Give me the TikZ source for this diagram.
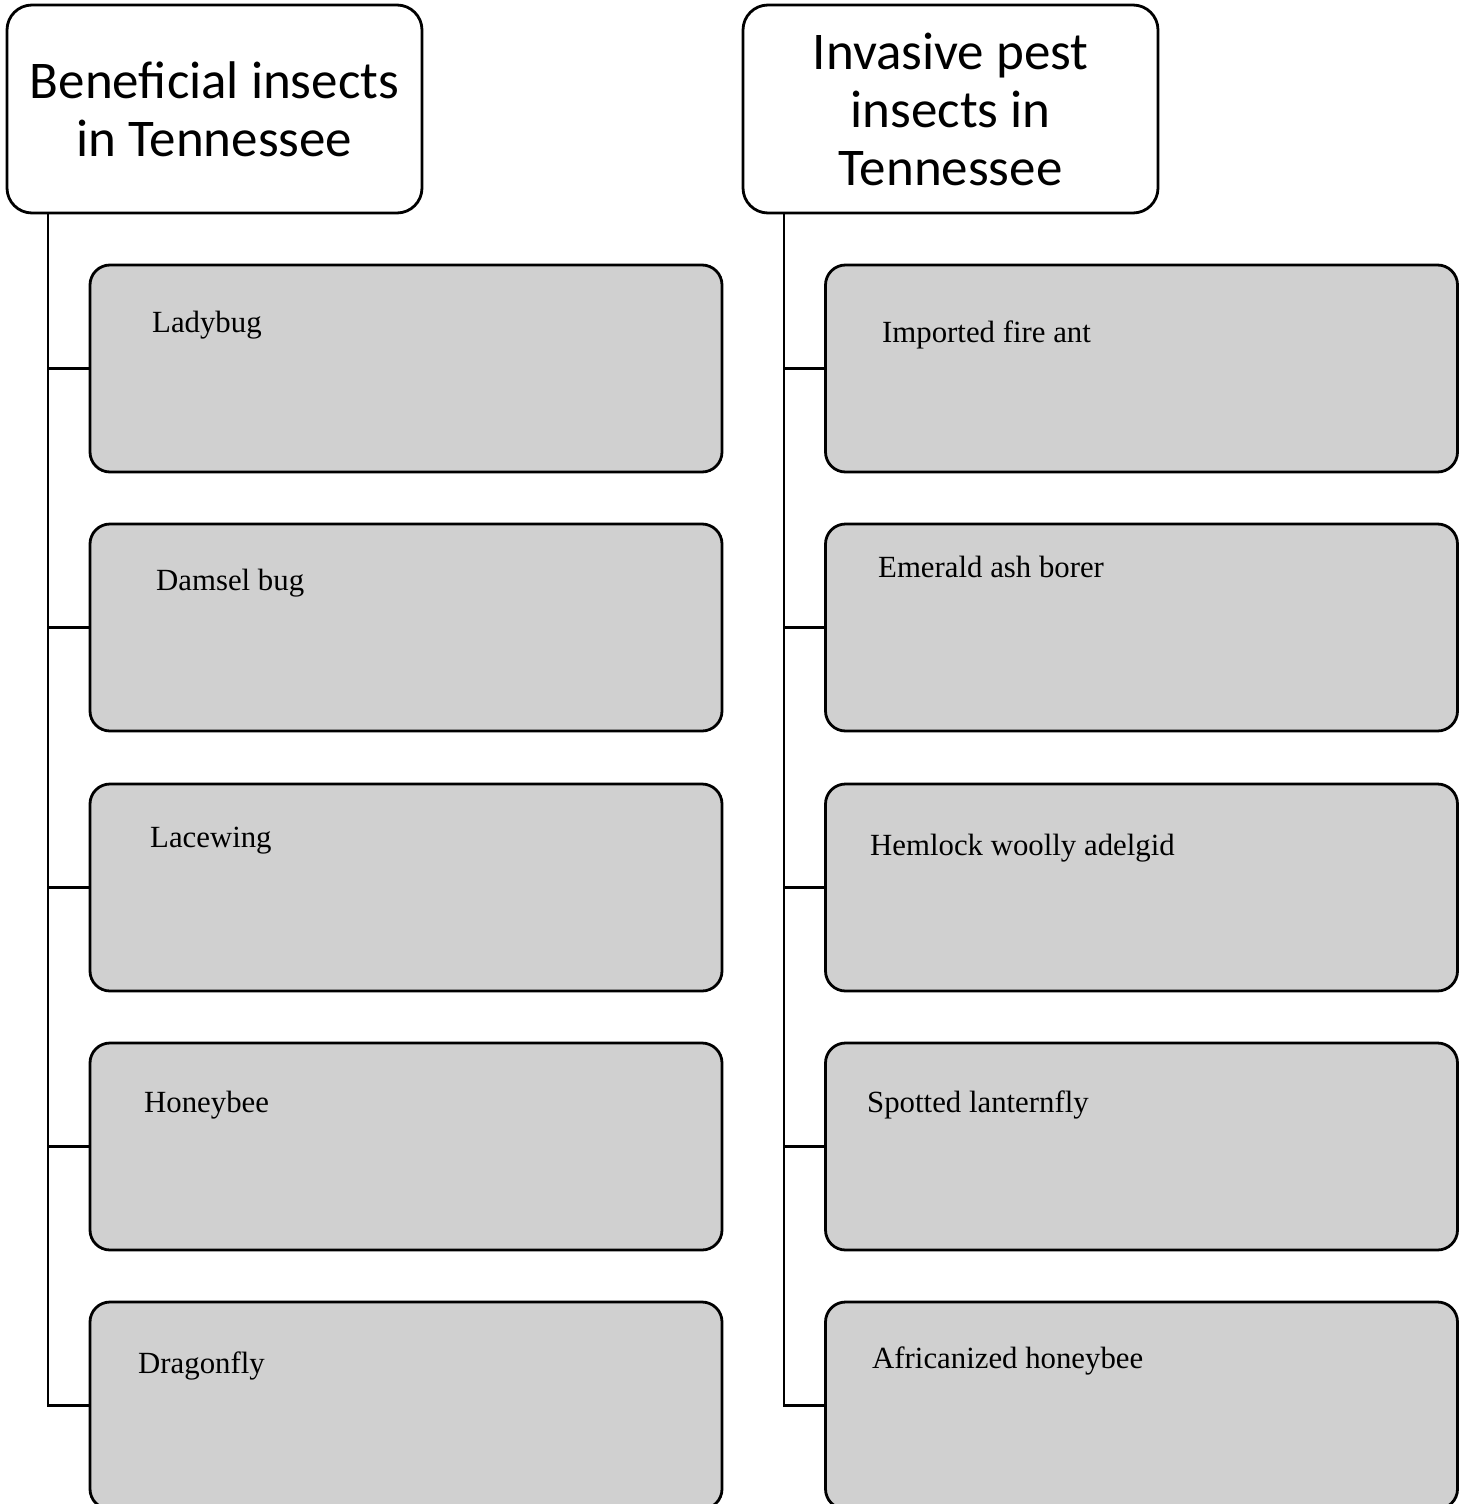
\documentclass[tikz,border=0pt]{standalone}
\usepackage{fontspec}
\setmainfont{Liberation Serif}
\newfontfamily\headfont{Carlito}
\definecolor{boxgray}{HTML}{D0D0D0}
\begin{document}
\begin{tikzpicture}[x=1pt,y=-1pt,
  headbox/.style={draw=black, line width=2.8pt, fill=white, rounded corners=25pt,
    minimum width=415pt, minimum height=208pt, inner sep=0pt, align=center,
    font=\headfont\fontsize{53}{58}\selectfont},
  itembox/.style={draw=black, line width=2.8pt, fill=boxgray, rounded corners=20pt,
    minimum width=632pt, minimum height=207pt, inner sep=0pt},
  itemtext/.style={anchor=base west, inner sep=0pt, font=\fontsize{30.8}{38}\selectfont},
  link/.style={draw=black, line width=2.8pt}]
\clip (0,0) rectangle (1465,1504);
% headers
\node[headbox] (lhead) at (214.5,109) {Beneficial insects\\in Tennessee};
\node[headbox] (rhead) at (950.5,109) {Invasive pest\\insects in\\Tennessee};
% left column boxes
\node[itembox] (l1) at (406,368.5) {};
\node[itembox] (l2) at (406,627.5) {};
\node[itembox] (l3) at (406,887.5) {};
\node[itembox] (l4) at (406,1146.5) {};
\node[itembox] (l5) at (406,1405.5) {};
% right column boxes
\node[itembox] (r1) at (1141.5,368.5) {};
\node[itembox] (r2) at (1141.5,627.5) {};
\node[itembox] (r3) at (1141.5,887.5) {};
\node[itembox] (r4) at (1141.5,1146.5) {};
\node[itembox] (r5) at (1141.5,1405.5) {};
% texts
\node[itemtext] (tl1) at (152,332) {Ladybug};
\node[itemtext] (tl2) at (156,590) {Damsel bug};
\node[itemtext] (tl3) at (150,847) {Lacewing};
\node[itemtext] (tl4) at (144,1112) {Honeybee};
\node[itemtext] (tl5) at (138,1373) {Dragonfly};
\node[itemtext] (tr1) at (882,342) {Imported fire ant};
\node[itemtext] (tr2) at (878,577) {Emerald ash borer};
\node[itemtext] (tr3) at (870,855) {Hemlock woolly adelgid};
\node[itemtext] (tr4) at (867,1112) {Spotted lanternfly};
\node[itemtext] (tr5) at (872,1368) {Africanized honeybee};
% connectors
\coordinate (ltop) at (48,213);
\coordinate (rtop) at (784,213);
\draw[link] (ltop) |- (l5.west);
\draw[link] (rtop) |- (r5.west);
\foreach \i in {1,2,3,4}{
  \draw[link] (ltop |- l\i.west) -- (l\i.west);
  \draw[link] (rtop |- r\i.west) -- (r\i.west);
}
\end{tikzpicture}
\end{document}
